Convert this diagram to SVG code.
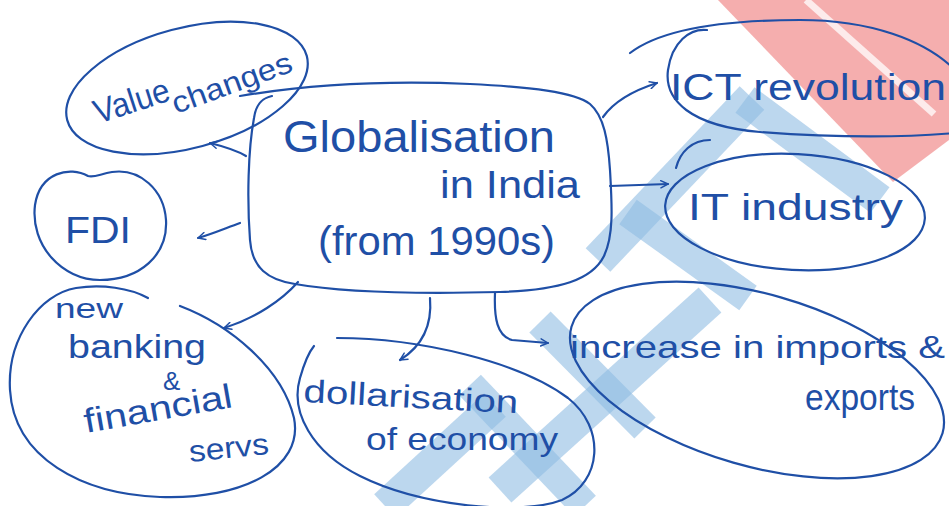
<svg xmlns="http://www.w3.org/2000/svg" width="949" height="506" viewBox="0 0 949 506">
  <style>
    .ink { fill: none; stroke: #1f4fa6; stroke-width: 2.2; stroke-linecap: round; stroke-linejoin: round; }
    .txt { font-family: "Liberation Sans", "DejaVu Sans", sans-serif; fill: #1f4fa6; }
    .wm-blue { stroke: #8fbde2; stroke-opacity: 0.6; stroke-linecap: butt; fill: none; }
    .wm-red { fill: #f29a9a; fill-opacity: 0.8; }
  </style>
  <defs>
    <marker id="head" viewBox="0 0 10 10" refX="9" refY="5" markerWidth="9" markerHeight="9" markerUnits="userSpaceOnUse" orient="auto">
      <path d="M1,1 L9,5 L1,9" fill="none" stroke="#1f4fa6" stroke-width="1.6" stroke-linecap="round" stroke-linejoin="round"/>
    </marker>
  </defs>

  <rect width="949" height="506" fill="#ffffff"/>

  <!-- faint background stamp -->
  <g id="stamp">
    <polygon class="wm-red" points="718,0 949,0 949,140 893,182"/>
    <line x1="806" y1="0" x2="934" y2="114" stroke="#ffffff" stroke-opacity="0.75" stroke-width="7"/>
    <line class="wm-blue" x1="598" y1="260" x2="752" y2="98" stroke-width="34"/>
    <line class="wm-blue" x1="745" y1="100" x2="880" y2="200" stroke-width="32"/>
    <line class="wm-blue" x1="628" y1="212" x2="748" y2="298" stroke-width="30"/>
    <line class="wm-blue" x1="500" y1="490" x2="710" y2="300" stroke-width="34"/>
    <line class="wm-blue" x1="540" y1="322" x2="645" y2="428" stroke-width="30"/>
    <line class="wm-blue" x1="385" y1="506" x2="495" y2="405" stroke-width="32"/>
    <line class="wm-blue" x1="470" y1="385" x2="585" y2="506" stroke-width="30"/>
  </g>

  <!-- central topic -->
  <g id="globalisation">
    <path class="ink" d="M 240,96 C 300,86 380,80 470,84 C 530,87 575,92 590,104 C 604,116 608,140 610,170 C 612,205 614,235 604,256 C 592,280 560,290 500,292 C 420,294 340,292 295,284 C 268,280 252,268 250,240 C 247,200 248,150 254,118 C 256,104 262,98 272,96"/>
    <text class="txt" x="283" y="152" font-size="44" textLength="272" lengthAdjust="spacingAndGlyphs">Globalisation</text>
    <text class="txt" x="440" y="198" font-size="38" textLength="140" lengthAdjust="spacingAndGlyphs">in India</text>
    <text class="txt" x="318" y="255" font-size="40" textLength="237" lengthAdjust="spacingAndGlyphs">(from 1990s)</text>
  </g>

  <g id="value-changes">
    <ellipse class="ink" cx="187" cy="88" rx="124" ry="60" transform="rotate(-15 187 88)"/>
    <text class="txt" x="98" y="124" font-size="34" textLength="78" lengthAdjust="spacingAndGlyphs" transform="rotate(-18 98 124)">Value</text>
    <text class="txt" x="176" y="114" font-size="30" textLength="126" lengthAdjust="spacingAndGlyphs" transform="rotate(-20 176 114)">changes</text>
  </g>

  <g id="fdi">
    <path class="ink" d="M 88,176 C 70,166 40,172 35,205 C 30,245 62,280 100,280 C 140,280 168,255 166,220 C 164,190 140,168 112,172 C 100,174 94,178 88,176 Z"/>
    <text class="txt" x="65" y="243" font-size="36" textLength="66" lengthAdjust="spacingAndGlyphs">FDI</text>
  </g>

  <g id="banking">
    <path class="ink" d="M 180,306 C 230,325 282,368 294,418 C 304,468 242,500 160,497 C 82,494 14,458 10,390 C 7,338 40,294 76,288 C 102,284 130,288 148,298"/>
    <text class="txt" x="55" y="318" font-size="28" textLength="68" lengthAdjust="spacingAndGlyphs">new</text>
    <text class="txt" x="68" y="358" font-size="34" textLength="138" lengthAdjust="spacingAndGlyphs">banking</text>
    <text class="txt" x="163" y="390" font-size="26">&amp;</text>
    <text class="txt" x="86" y="433" font-size="34" textLength="150" lengthAdjust="spacingAndGlyphs" transform="rotate(-10 86 433)">financial</text>
    <text class="txt" x="190" y="462" font-size="30" textLength="80" lengthAdjust="spacingAndGlyphs" transform="rotate(-6 190 462)">servs</text>
  </g>

  <g id="dollarisation">
    <path class="ink" d="M 337,338 C 420,338 520,362 568,398 C 606,428 602,482 562,500 C 520,516 420,506 360,476 C 312,452 290,412 300,378 C 304,364 309,352 314,346"/>
    <text class="txt" x="303" y="402" font-size="32" textLength="215" lengthAdjust="spacingAndGlyphs" transform="rotate(3 303 402)">dollarisation</text>
    <text class="txt" x="366" y="450" font-size="32" textLength="192" lengthAdjust="spacingAndGlyphs">of economy</text>
  </g>

  <g id="trade">
    <ellipse class="ink" cx="757" cy="380" rx="193" ry="86" transform="rotate(16 757 380)"/>
    <text class="txt" x="570" y="358" font-size="32" textLength="375" lengthAdjust="spacingAndGlyphs">increase in imports &amp;</text>
    <text class="txt" x="805" y="410" font-size="36" textLength="110" lengthAdjust="spacingAndGlyphs">exports</text>
  </g>

  <g id="ict">
    <path class="ink" d="M 630,53 C 660,30 720,20 800,20 C 870,20 925,40 955,70"/>
    <path class="ink" d="M 707,30 C 690,28 672,42 668,70 C 664,100 690,126 760,132 C 840,138 910,137 955,133"/>
    <text class="txt" x="670" y="100" font-size="36" textLength="276" lengthAdjust="spacingAndGlyphs">ICT revolution</text>
  </g>

  <g id="it-industry">
    <path class="ink" d="M 710,140 C 692,140 680,152 676,168"/>
    <ellipse class="ink" cx="795" cy="212" rx="130" ry="58" transform="rotate(3 795 212)"/>
    <text class="txt" x="688" y="220" font-size="36" textLength="215" lengthAdjust="spacingAndGlyphs">IT industry</text>
  </g>

  <!-- links from the central topic -->
  <g id="connectors">
    <path class="ink" d="M 246,156 C 236,150 222,146 210,143" marker-end="url(#head)"/>
    <path class="ink" d="M 240,223 C 226,228 212,234 198,238" marker-end="url(#head)"/>
    <path class="ink" d="M 298,282 C 282,300 256,318 224,328" marker-end="url(#head)"/>
    <path class="ink" d="M 430,298 C 432,322 424,345 400,360" marker-end="url(#head)"/>
    <path class="ink" d="M 495,293 C 494,318 497,336 512,340 L 548,343" marker-end="url(#head)"/>
    <path class="ink" d="M 603,117 C 615,100 635,90 657,83" marker-end="url(#head)"/>
    <path class="ink" d="M 610,186 L 668,184" marker-end="url(#head)"/>
  </g>
</svg>
